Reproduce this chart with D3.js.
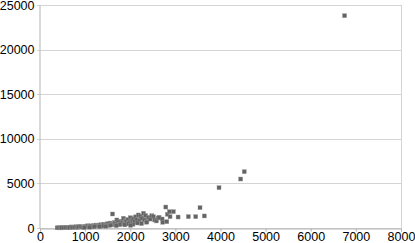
<!DOCTYPE html>
<html>
<head>
<meta charset="utf-8">
<script src="https://cdn.jsdelivr.net/npm/d3@7"></script>
<style>
  body { margin: 0; background: #fff; }
  text { font-family: "Liberation Sans", Arial, sans-serif; font-size: 12.5px; fill: #000; }
</style>
</head>
<body>
<svg id="chart" width="415" height="243"></svg>
<script>
// values
var xTicks = [0, 1000, 2000, 3000, 4000, 5000, 6000, 7000, 8000];
var yTicks = [0, 5000, 10000, 15000, 20000, 25000];

var xs = [380, 420, 450, 480, 520, 560, 600, 640, 660, 700, 730, 760, 800, 830, 860, 900, 930, 960,
  1000, 1030, 1060, 1090, 1120, 1150, 1180, 1210, 1240, 1270, 1300, 1330, 1350, 1380, 1410, 1440,
  1470, 1500, 1520, 1550, 1580, 1607, 1620, 1650, 1680, 1703, 1720, 1750, 1780, 1800, 1830, 1850,
  1870, 1900, 1920, 1950, 1980, 2000, 2020, 2050, 2080, 2100, 2120, 2150, 2181, 2200, 2230, 2260,
  2293, 2310, 2340, 2370, 2400, 2440, 2478, 2513, 2540, 2580, 2617, 2639, 2706, 2721, 2788, 2810,
  2823, 2867, 2882, 2956, 3060, 3288, 3451, 3546, 3642, 3967, 4447, 4527, 6750,
  1200, 1400, 1560, 1760, 1960, 2160, 2360, 1100, 1320, 1690, 1880, 2060, 2250, 980, 1460, 2010];
var ys = [20, 40, 10, 60, 30, 80, 50, 90, 40, 120, 70, 100, 150, 60, 130, 180, 110, 90,
  200, 140, 250, 170, 230, 120, 280, 190, 330, 250, 300, 210, 380, 270, 420, 330,
  360, 480, 300, 550, 420, 1570, 380, 620, 470, 900, 560, 680, 430, 760, 600, 1090,
  520, 820, 700, 950, 640, 1150, 780, 900, 1050, 680, 1250, 950, 1460, 820, 1300, 1100,
  1650, 900, 1400, 750, 1200, 1000, 1380, 1270, 900, 790, 1120, 1200, 1010, 640, 2350, 710,
  1540, 1830, 1270, 1830, 1230, 1270, 1270, 2280, 1350, 4520, 5490, 6310, 23800,
  150, 220, 320, 380, 460, 560, 650, 90, 160, 260, 350, 420, 500, 60, 200, 300];

var svg = d3.select("#chart");
var margin = {top: 5, right: 14, bottom: 15, left: 40};
var width = 415 - margin.left - margin.right;
var height = 243 - margin.top - margin.bottom;

var x = d3.scaleLinear().domain([0, 8000]).range([0, width]);
var y = d3.scaleLinear().domain([0, 25000]).range([height, 0]);

var g = svg.append("g")
    .attr("transform", "translate(" + margin.left + "," + margin.top + ")");

// horizontal grid
g.selectAll(".grid")
    .data(yTicks)
    .enter()
    .append("line")
    .attr("x1", -3)
    .attr("x2", width)
    .attr("y1", function (d) { return Math.round(y(d)) + 0.5; })
    .attr("y2", function (d) { return Math.round(y(d)) + 0.5; })
    .attr("stroke", "#d4d4d4");

// right border
g.append("line")
    .attr("x1", width + 0.5).attr("x2", width + 0.5)
    .attr("y1", 0).attr("y2", height)
    .attr("stroke", "#d4d4d4");

// y axis
var yAxis = g.append("g")
    .attr("transform", "translate(-0.5,0)")
    .call(d3.axisLeft(y).tickValues(yTicks).tickSize(0).tickPadding(5).tickFormat(d3.format("d")));
yAxis.select(".domain").attr("stroke", "#b3b3b3");
yAxis.selectAll("text").attr("font-size", null).attr("font-family", null);

// x axis
var xAxis = g.append("g")
    .attr("transform", "translate(0," + (Math.round(height) + 0.5) + ")")
    .call(d3.axisBottom(x).tickValues(xTicks).tickSize(3).tickPadding(1).tickFormat(d3.format("d")));
xAxis.select(".domain").attr("stroke", "#b3b3b3");
xAxis.selectAll(".tick line").attr("stroke", "#b3b3b3");
xAxis.selectAll("text").attr("font-size", null).attr("font-family", null);

// points
var pts = xs.map(function (d, i) { return {x: d, y: ys[i]}; });
g.selectAll(".pt")
    .data(pts)
    .enter()
    .append("rect")
    .attr("class", "pt")
    .attr("x", function (d) { return x(d.x) - 2; })
    .attr("y", function (d) { return y(d.y) - 2; })
    .attr("width", 4)
    .attr("height", 4)
    .attr("fill", "#636363")
    .attr("stroke", "#999")
    .attr("stroke-width", 0.4);
</script>
</body>
</html>
